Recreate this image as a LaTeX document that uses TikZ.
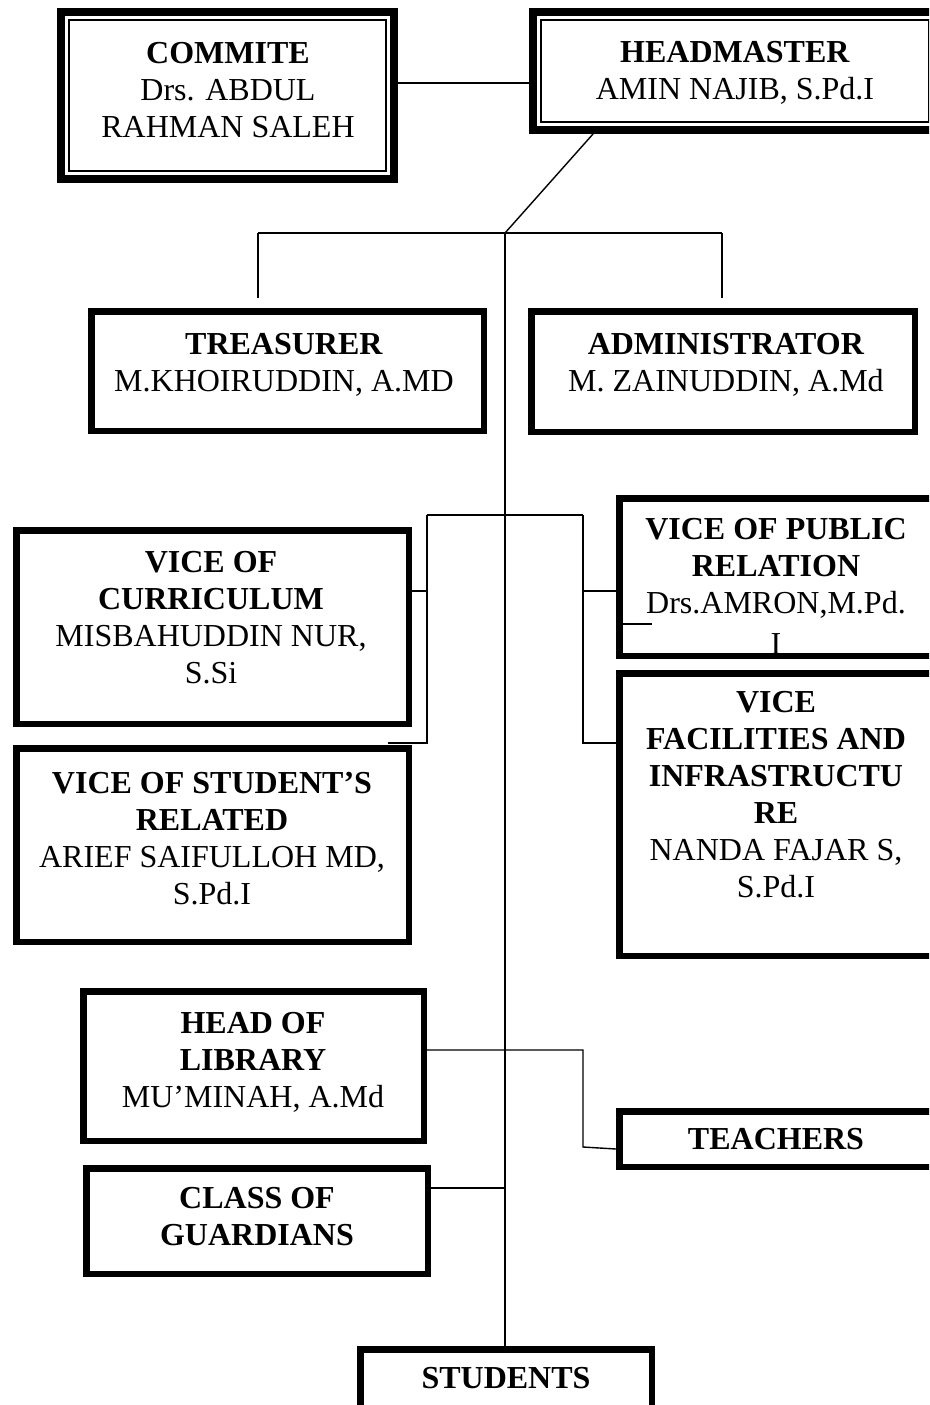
\documentclass[tikz,border=0pt]{standalone}
\usepackage{fontspec}
\setmainfont{Liberation Serif}
\tikzset{
  sbox/.style={draw, line width=6.5pt, rectangle, inner sep=0pt},
  dbox/.style={draw, line width=8pt, rectangle, inner sep=0pt},
  thinframe/.style={line width=1.3pt},
  txt/.style={inner sep=0pt, align=center, font=\fontsize{32}{37}\selectfont},
  conn/.style={line width=1.4pt},
}
\newcommand{\mksbox}[5]{\node[sbox, minimum width={#4pt-#2pt-6.5pt}, minimum height={#5pt-#3pt-6.5pt}] (#1) at ({(#2+#4)/2},{(#3+#5)/2}) {};}
\newcommand{\mkdbox}[5]{\node[dbox, minimum width={#4pt-#2pt-8pt}, minimum height={#5pt-#3pt-8pt}] (#1) at ({(#2+#4)/2},{(#3+#5)/2}) {};
  \draw[thinframe] ([shift={(12pt,-12pt)}]#1.north west) rectangle ([shift={(-12pt,12pt)}]#1.south east);}
\begin{document}
\begin{tikzpicture}[x=1pt, y=-1pt]
\useasboundingbox (0,0) rectangle (929,1405);
\clip (0,0) rectangle (929,1405);

% ---- helper coordinates for connectors ----
\coordinate (split) at (505,233);
\coordinate (d1) at (593,0);
\coordinate (y83) at (0,83);
\coordinate (tL) at (258,233);
\coordinate (tR) at (722,233);
\coordinate (bTL) at (427,515);
\coordinate (bTR) at (583,515);
\coordinate (bBL) at (427,743);
\coordinate (bBR) at (583,743);
\coordinate (bBLend) at (388,743);
\coordinate (y591) at (0,591);
\coordinate (stray) at (652,624);
\coordinate (lt1) at (583,1050);
\coordinate (lt2) at (583,1147);
\coordinate (y1149) at (0,1149);
\coordinate (y1188) at (0,1188);

% ---- texts ----
\node[txt, anchor=north] (cm-t) at (228,42) {\textbf{COMMITE}\\Drs. ABDUL\\RAHMAN SALEH};
\node[txt, anchor=north] (hm-t) at (735,41) {\textbf{HEADMASTER}\\AMIN NAJIB, S.Pd.I};
\node[txt, anchor=north] (trs-t) at (284,333) {\textbf{TREASURER}\\M.KHOIRUDDIN, A.MD};
\node[txt, anchor=north] (adm-t) at (726,333) {\textbf{ADMINISTRATOR}\\M. ZAINUDDIN, A.Md};
\node[txt, anchor=north] (vc-t) at (211,551) {\textbf{VICE OF}\\\textbf{CURRICULUM}\\MISBAHUDDIN NUR,\\S.Si};
\node[txt, anchor=north] (vs-t) at (212,772) {\textbf{VICE OF STUDENT’S}\\\textbf{RELATED}\\ARIEF SAIFULLOH MD,\\S.Pd.I};
\begin{scope}
  \clip (619,498) rectangle (940,653);
  \node[txt, anchor=north] (vpr-t) at (776,518) {\textbf{VICE OF PUBLIC}\\\textbf{RELATION}\\Drs.AMRON,M.Pd.\\[4pt]I};
\end{scope}
\node[txt, anchor=north] (vf-t) at (776,691) {\textbf{VICE}\\\textbf{FACILITIES AND}\\\textbf{INFRASTRUCTU}\\\textbf{RE}\\NANDA FAJAR S,\\S.Pd.I};
\node[txt, anchor=north] (lib-t) at (253,1012) {\textbf{HEAD OF}\\\textbf{LIBRARY}\\MU’MINAH, A.Md};
\node[txt, anchor=north] (gd-t) at (257,1187) {\textbf{CLASS OF}\\\textbf{GUARDIANS}};
\node[txt, anchor=north] (tea-t) at (776,1128) {\textbf{TEACHERS}};
\node[txt, anchor=north] (stu-t) at (506,1367) {\textbf{STUDENTS}};

% ---- boxes ----
\mkdbox{cm}{57}{8}{398}{183}
\mkdbox{hm}{529}{8}{941}{134}
\mksbox{trs}{88}{308}{487}{434}
\mksbox{adm}{528}{308}{918}{435}
\mksbox{vc}{13}{527}{412}{727}
\mksbox{vs}{13}{745}{412}{945}
\mksbox{vpr}{616}{495}{945}{659}
\mksbox{vf}{616}{670}{945}{959}
\mksbox{lib}{80}{988}{427}{1144}
\mksbox{gd}{83}{1165}{431}{1277}
\mksbox{tea}{616}{1108}{945}{1170}
\mksbox{stu}{357}{1346}{655}{1440}

% ---- connectors ----
\draw[conn] (cm.east |- y83) -- (hm.west |- y83);
\draw[conn] (hm.south -| d1) -- (split);
\draw[conn] (tL) -- (tR);
\draw[conn] (tL) -- ([yshift=10pt]tL |- trs.north);
\draw[conn] (tR) -- ([yshift=10pt]tR |- adm.north);
\draw[conn] (split) -- (split |- stu.north);
\draw[conn] (bTL) -- (bTR);
\draw[conn] (bTL) -- (bBL) -- (bBLend);
\draw[conn] (bTR) -- (bBR) -- (vf.west |- bBR);
\draw[conn] (vc.east |- y591) -- (bTL |- y591);
\draw[conn] (bTR |- y591) -- (vpr.west |- y591);
\draw[conn] (vpr.west |- stray) -- (stray);
\draw[conn] (lib.east |- lt1) -- (lt1) -- (lt2) -- (tea.west |- y1149);
\draw[conn] (gd.east |- y1188) -- (split |- y1188);
\end{tikzpicture}
\end{document}
